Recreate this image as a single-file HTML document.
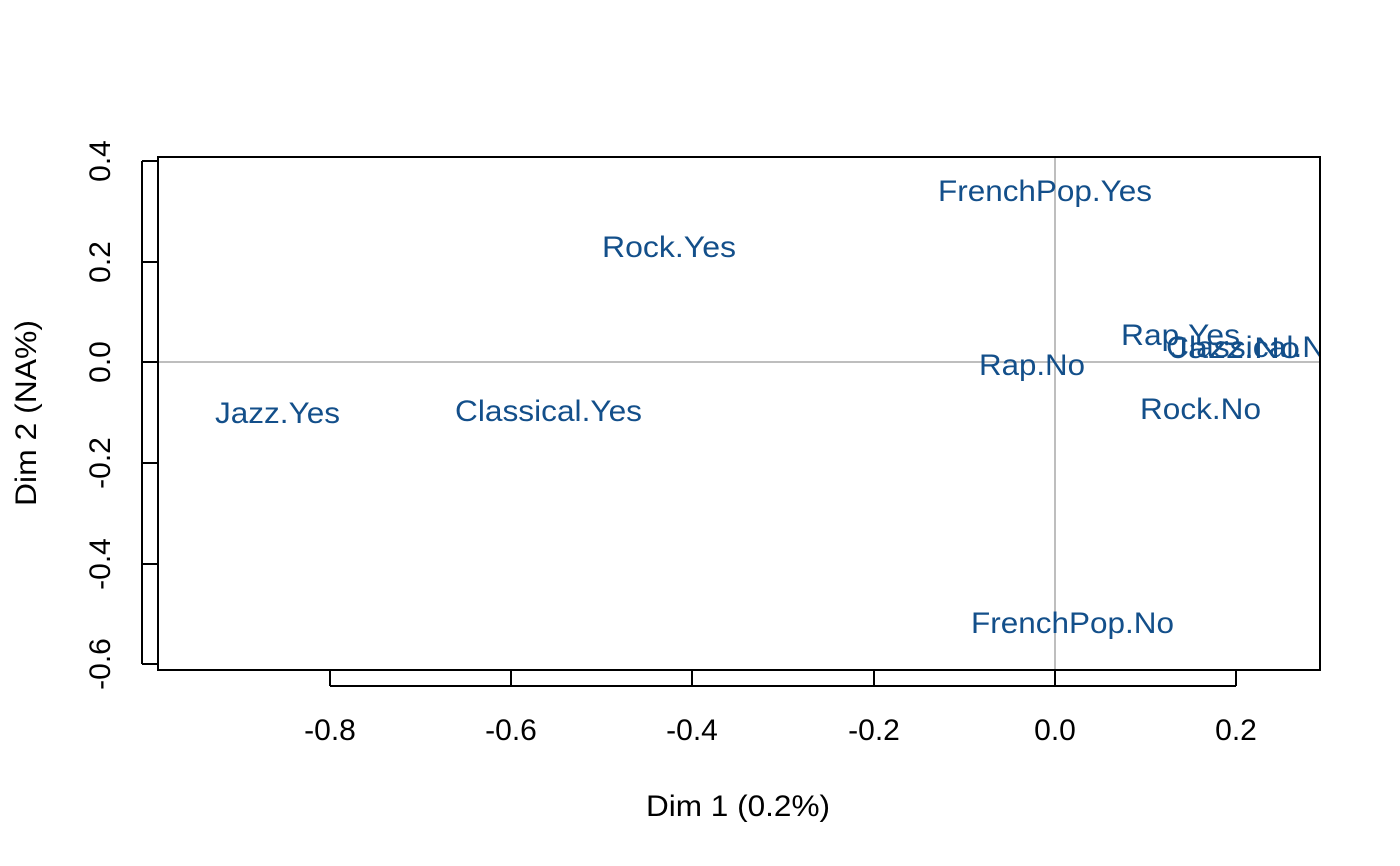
<!DOCTYPE html>
<html><head><meta charset="utf-8"><style>body{margin:0;background:#fff}svg{display:block}</style></head>
<body>
<svg width="1400" height="866" xmlns="http://www.w3.org/2000/svg" font-family="Liberation Sans, Arial, sans-serif">
<defs><clipPath id="c"><rect x="158" y="157" width="1162" height="513"/></clipPath></defs>
<g stroke="#bebebe" stroke-width="2">
<line x1="158" y1="362" x2="1320" y2="362"/>
<line x1="1055" y1="157" x2="1055" y2="670"/>
</g>
<g clip-path="url(#c)" fill="#134f8a" font-size="30">
<text x="938" y="201" textLength="214" lengthAdjust="spacingAndGlyphs">FrenchPop.Yes</text>
<text x="602" y="257" textLength="134" lengthAdjust="spacingAndGlyphs">Rock.Yes</text>
<text x="1121" y="345" textLength="119" lengthAdjust="spacingAndGlyphs">Rap.Yes</text>
<text x="1170" y="358" textLength="130" lengthAdjust="spacingAndGlyphs">Jazz.No</text>
<text x="1166" y="357" textLength="177" lengthAdjust="spacingAndGlyphs">Classical.No</text>
<text x="979" y="375" textLength="106" lengthAdjust="spacingAndGlyphs">Rap.No</text>
<text x="215" y="423" textLength="125" lengthAdjust="spacingAndGlyphs">Jazz.Yes</text>
<text x="455" y="421" textLength="187" lengthAdjust="spacingAndGlyphs">Classical.Yes</text>
<text x="1140" y="419" textLength="121" lengthAdjust="spacingAndGlyphs">Rock.No</text>
<text x="971" y="633" textLength="203" lengthAdjust="spacingAndGlyphs">FrenchPop.No</text>
</g>
<rect x="158" y="157" width="1162" height="513" fill="none" stroke="#000" stroke-width="2"/>
<g stroke="#000" stroke-width="2">
<line x1="330" y1="686" x2="1236" y2="686"/>
<line x1="330" y1="670" x2="330" y2="686"/><line x1="511" y1="670" x2="511" y2="686"/>
<line x1="692" y1="670" x2="692" y2="686"/><line x1="874" y1="670" x2="874" y2="686"/>
<line x1="1055" y1="670" x2="1055" y2="686"/><line x1="1236" y1="670" x2="1236" y2="686"/>
<line x1="142" y1="161" x2="142" y2="664"/>
<line x1="142" y1="161" x2="158" y2="161"/><line x1="142" y1="262" x2="158" y2="262"/>
<line x1="142" y1="362" x2="158" y2="362"/><line x1="142" y1="463" x2="158" y2="463"/>
<line x1="142" y1="564" x2="158" y2="564"/><line x1="142" y1="664" x2="158" y2="664"/>
</g>
<g font-size="30" text-anchor="middle" fill="#000">
<text x="330" y="740">-0.8</text><text x="511" y="740">-0.6</text><text x="692" y="740">-0.4</text>
<text x="874" y="740">-0.2</text><text x="1055" y="740">0.0</text><text x="1236" y="740">0.2</text>
<text transform="translate(110,161) rotate(-90)">0.4</text>
<text transform="translate(110,262) rotate(-90)">0.2</text>
<text transform="translate(110,362) rotate(-90)">0.0</text>
<text transform="translate(110,463) rotate(-90)">-0.2</text>
<text transform="translate(110,564) rotate(-90)">-0.4</text>
<text transform="translate(110,664) rotate(-90)">-0.6</text>
<text x="738" y="816" textLength="184" lengthAdjust="spacingAndGlyphs">Dim 1 (0.2%)</text>
<text transform="translate(36,413) rotate(-90)" textLength="186" lengthAdjust="spacingAndGlyphs">Dim 2 (NA%)</text>
</g>
</svg>
</body></html>
